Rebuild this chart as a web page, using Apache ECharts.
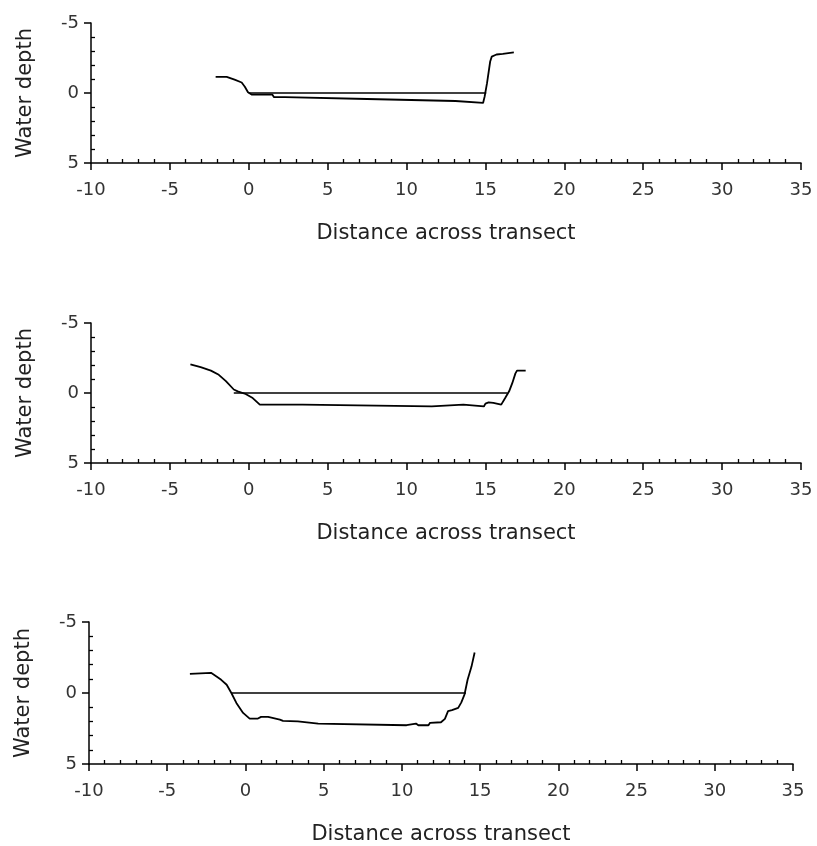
<!DOCTYPE html>
<html>
<head>
<meta charset="utf-8">
<script src="https://cdn.jsdelivr.net/npm/echarts@6/dist/echarts.min.js"></script>
<style>
  html, body { margin: 0; padding: 0; background: #fff; }
  #chart { width: 817px; height: 846px; }
</style>
</head>
<body>
<div id="chart"></div>
<script>
// bed profiles [distance, depth]
const bed1 = [[-2.1, -1.15], [-1.4, -1.15], [-0.9, -0.95], [-0.45, -0.75], [-0.25, -0.45], [-0.05, -0.05],
  [0.2, 0.12], [1.5, 0.12], [1.6, 0.3], [2.3, 0.3], [2.4, 0.43], [7.5, 0.43], [7.6, 0.57],
  [13.1, 0.57], [13.2, 0.71], [14.85, 0.71], [14.95, 0.25], [15.1, -0.7], [15.3, -2.25],
  [15.4, -2.6], [15.7, -2.75], [16.1, -2.8], [16.8, -2.9]]
const water1 = [[0, 0], [15.05, 0]]

const bed2 = [[-3.7, -2.05], [-3.05, -1.85], [-2.4, -1.6], [-1.9, -1.3], [-1.45, -0.85], [-0.95, -0.25],
  [-0.7, -0.12], [-0.2, 0.07], [0.25, 0.36], [0.7, 0.83], [3.4, 0.83], [3.5, 0.96], [11.6, 0.96],
  [11.7, 0.83], [13.6, 0.83], [13.7, 0.96], [14.9, 0.96], [15.0, 0.76], [15.2, 0.67], [15.5, 0.71],
  [15.6, 0.83], [16.0, 0.83], [16.25, 0.36], [16.5, -0.12], [16.7, -0.7], [16.9, -1.4], [17.0, -1.6],
  [17.55, -1.6]]
const water2 = [[-0.95, 0], [16.4, 0]]

const bed3 = [[-3.55, -1.35], [-2.2, -1.42], [-1.85, -1.16], [-1.55, -0.93], [-1.2, -0.58], [-0.9, 0],
  [-0.58, 0.7], [-0.15, 1.4], [0.27, 1.8], [0.8, 1.8], [1.0, 1.68], [1.45, 1.68], [1.55, 1.8],
  [2.2, 1.87], [2.4, 1.96], [3.35, 2.0], [3.47, 2.1], [4.65, 2.15], [4.75, 2.27], [10.3, 2.27],
  [10.4, 2.15], [10.9, 2.15], [11.05, 2.27], [11.7, 2.27], [11.8, 2.1], [12.5, 2.06], [12.75, 1.82],
  [12.95, 1.28], [13.2, 1.21], [13.6, 1.05], [13.8, 0.66], [14.0, 0.12], [14.2, -0.93],
  [14.45, -1.86], [14.65, -2.85]]
const water3 = [[-0.9, 0], [14.1, 0]]

const panels = [bed1, bed2, bed3]
const waters = [water1, water2, water3]

const grids = [
  { left: 91, right: 16, top: 23, height: 140 },
  { left: 91, right: 16, top: 323, height: 140 },
  { left: 89, right: 24, top: 622, height: 143 },
]

const font = 'DejaVu Sans'
const axisLine = { onZero: false, lineStyle: { color: '#000', width: 1.5 } }

const xAxes = []
const yAxes = []
const series = []

grids.forEach((g, i) => {
  // main axes: labels + outside major ticks
  xAxes.push({
    gridIndex: i, type: 'value', position: 'bottom',
    min: -10, max: 35, interval: 5,
    name: 'Distance across transect', nameLocation: 'middle', nameGap: 60,
    nameTextStyle: { fontFamily: font, fontSize: 21, color: '#222' },
    axisLine,
    axisTick: { length: 7, lineStyle: { color: '#000', width: 1.5 } },
    axisLabel: { fontFamily: font, fontSize: 18, color: '#333', margin: 18 },
    splitLine: { show: false },
  })
  // minor ticks pointing inside
  xAxes.push({
    gridIndex: i, type: 'value', position: 'bottom',
    min: -10, max: 35, interval: 5,
    axisLine: { show: false, onZero: false },
    axisTick: { show: false, inside: true },
    minorTick: { show: true, splitNumber: 5, length: 4, lineStyle: { color: '#000', width: 1.3 } },
    axisLabel: { show: false },
    splitLine: { show: false },
  })
  yAxes.push({
    gridIndex: i, type: 'value', position: 'left', inverse: true,
    min: -5, max: 5, interval: 5,
    name: 'Water depth', nameLocation: 'middle', nameGap: 55,
    nameTextStyle: { fontFamily: font, fontSize: 21, color: '#222' },
    axisLine,
    axisTick: { length: 7, lineStyle: { color: '#000', width: 1.5 } },
    axisLabel: { fontFamily: font, fontSize: 18, color: '#333', margin: 12 },
    splitLine: { show: false },
  })
  yAxes.push({
    gridIndex: i, type: 'value', position: 'left', inverse: true,
    min: -5, max: 5, interval: 5,
    axisLine: { show: false, onZero: false },
    axisTick: { show: false, inside: true },
    minorTick: { show: true, splitNumber: 5, length: 4, lineStyle: { color: '#000', width: 1.3 } },
    axisLabel: { show: false },
    splitLine: { show: false },
  })

  series.push({
    type: 'line', xAxisIndex: i * 2, yAxisIndex: i * 2,
    data: panels[i], showSymbol: false, animation: false,
    lineStyle: { color: '#000', width: 1.8 },
  })
  series.push({
    type: 'line', xAxisIndex: i * 2, yAxisIndex: i * 2,
    data: waters[i], showSymbol: false, animation: false,
    lineStyle: { color: '#000', width: 1.4 },
  })
})

const chart = echarts.init(document.getElementById('chart'), null, { renderer: 'canvas' })
chart.setOption({
  animation: false,
  backgroundColor: '#fff',
  grid: grids,
  xAxis: xAxes,
  yAxis: yAxes,
  series,
})
window.addEventListener('resize', () => chart.resize())
</script>
</body>
</html>
